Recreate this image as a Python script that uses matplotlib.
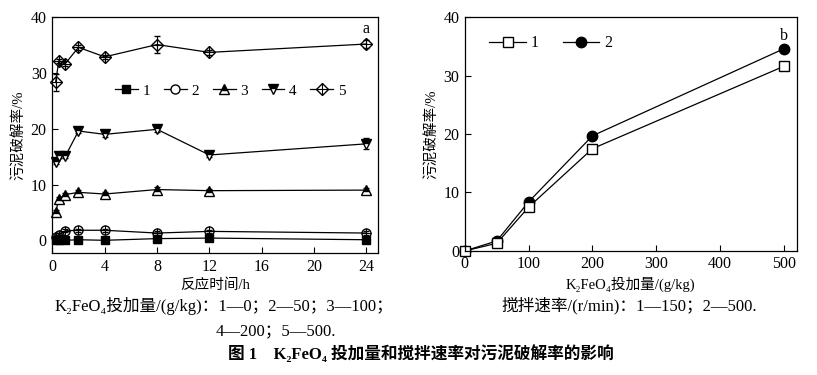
import numpy as np
import matplotlib.pyplot as plt
from matplotlib.lines import Line2D

plt.rcParams['font.family'] = ['Liberation Serif', 'Noto Sans CJK SC', 'DejaVu Sans']
plt.rcParams['axes.unicode_minus'] = False

# a: 反应时间 vs 污泥破解率, K2FeO4 投加量 1-5
time_h = [0.25, 0.5, 1, 2, 4, 8, 12, 24]
rate_1 = [0.0, 0.0, 0.0, 0.1, 0.0, 0.3, 0.4, 0.1]
rate_2 = [0.6, 1.0, 1.7, 1.8, 1.8, 1.3, 1.6, 1.3]
rate_3 = [5.0, 7.4, 8.2, 8.6, 8.3, 9.1, 8.9, 9.0]
rate_4 = [14.0, 15.2, 15.1, 19.6, 19.0, 19.9, 15.3, 17.3]
rate_5 = [28.3, 32.2, 31.7, 34.6, 32.9, 35.1, 33.7, 35.2]
err_1 = [0.2, 0.2, 0.2, 0.2, 0.2, 0.3, 0.3, 0.2]
err_2 = [0.3, 0.3, 0.3, 0.3, 0.3, 0.4, 0.3, 0.3]
err_3 = [0.4, 0.3, 0.3, 0.4, 0.3, 0.4, 0.3, 0.3]
err_4 = [0.4, 0.4, 0.4, 0.4, 0.4, 0.4, 0.4, 1.0]
err_5 = [1.5, 0.4, 0.4, 0.4, 0.4, 1.6, 0.4, 0.8]

# b: K2FeO4 投加量 vs 污泥破解率, 搅拌速率 1-2
dose = [0, 50, 100, 200, 500]
stir_1 = [0.0, 1.3, 7.5, 17.5, 31.6]
stir_2 = [0.0, 1.7, 8.4, 19.7, 34.6]
stir_err_1 = [0.2, 0.3, 0.4, 0.3, 0.6]

fig = plt.figure(figsize=(8.17, 3.75), dpi=100)
ax1 = fig.add_axes([0.064, 0.325, 0.399, 0.629])
ax2 = fig.add_axes([0.569, 0.331, 0.406, 0.623])

kw = dict(color='black', lw=0.9, capsize=2.5, elinewidth=0.8, clip_on=False)
ax1.errorbar(time_h, rate_1, yerr=err_1, marker='s', ms=6, mfc='black', mec='black', **kw)
ax1.errorbar(time_h, rate_2, yerr=err_2, marker='o', ms=6.5, mfc='none', mec='black', **kw)
ax1.plot(time_h, rate_2, ls='none', marker='+', ms=6.5, mew=0.8, color='black')
ax1.errorbar(time_h, rate_3, yerr=err_3, marker='^', ms=7, fillstyle='top',
             mfc='black', mfcalt='white', mec='black', **kw)
ax1.errorbar(time_h, rate_4, yerr=err_4, marker='v', ms=7, fillstyle='top',
             mfc='black', mfcalt='white', mec='black', **kw)
ax1.errorbar(time_h, rate_5, yerr=err_5, marker='D', ms=6.5, mfc='none', mec='black', **kw)
ax1.plot(time_h, rate_5, ls='none', marker='+', ms=9, mew=0.8, color='black')

h1 = [
    Line2D([], [], color='black', lw=0.9, marker='s', ms=6, mfc='black'),
    Line2D([], [], color='black', lw=0.9, marker='o', ms=6.5, mfc='white'),
    Line2D([], [], color='black', lw=0.9, marker='^', ms=7, fillstyle='top', mfc='black', mfcalt='white'),
    Line2D([], [], color='black', lw=0.9, marker='v', ms=7, fillstyle='top', mfc='black', mfcalt='white'),
    (Line2D([], [], color='black', lw=0.9, marker='D', ms=6.5, mfc='white'),
     Line2D([], [], ls='none', marker='+', ms=9, mew=0.8, color='black')),
]
ax1.legend(h1, ['1', '2', '3', '4', '5'], ncol=5, frameon=False, loc='upper left',
           bbox_to_anchor=(0.15, 0.775), handlelength=1.5, handletextpad=0.3,
           columnspacing=0.9, fontsize=11)

ax1.set_xlim(0, 24.9)
ax1.set_ylim(-2.3, 40)
ax1.set_xticks([0, 4, 8, 12, 16, 20, 24])
ax1.set_yticks([0, 10, 20, 30, 40])
ax1.set_xlabel('反应时间/h', fontsize=10.5, labelpad=3)
ax1.set_ylabel('污泥破解率/%', fontsize=10.5, labelpad=4)
ax1.text(24, 37.9, 'a', ha='center', va='center', fontsize=11.5)

ax2.errorbar(dose, stir_1, yerr=stir_err_1, marker='s', ms=7, mfc='white', mec='black', **kw)
ax2.plot(dose, stir_2, color='black', lw=0.9, marker='o', ms=7.5, mfc='black', clip_on=False)
h2 = [
    Line2D([], [], color='black', lw=0.9, marker='s', ms=7, mfc='white'),
    Line2D([], [], color='black', lw=0.9, marker='o', ms=7.5, mfc='black'),
]
ax2.legend(h2, ['1', '2'], ncol=2, frameon=False, loc='upper left',
           bbox_to_anchor=(0.03, 0.985), handlelength=2.3, handletextpad=0.3,
           columnspacing=1.5, fontsize=11.5)
ax2.set_xlim(0, 520)
ax2.set_ylim(0, 40)
ax2.set_xticks([0, 100, 200, 300, 400, 500])
ax2.set_yticks([0, 10, 20, 30, 40])
ax2.set_xlabel('K₂FeO₄投加量/(g/kg)', fontsize=10.5, labelpad=3)
ax2.set_ylabel('污泥破解率/%', fontsize=10.5, labelpad=4)
ax2.text(500, 36.8, 'b', ha='center', va='center', fontsize=11.5)

for ax in (ax1, ax2):
    ax.tick_params(direction='in', length=4, width=0.8, labelsize=11.5, pad=4)
    for s in ax.spines.values():
        s.set_linewidth(0.9)

fig.text(0.067, 0.171, 'K₂FeO₄投加量/(g/kg)：1—0；2—50；3—100；', fontsize=12)
fig.text(0.264, 0.106, '4—200；5—500.', fontsize=12)
fig.text(0.614, 0.171, '搅拌速率/(r/min)：1—150；2—500.', fontsize=12)
fig.text(0.515, 0.042, '图 1    K₂FeO₄ 投加量和搅拌速率对污泥破解率的影响',
         ha='center', fontsize=12, fontweight='bold')

fig.savefig('out.png', dpi=100)
